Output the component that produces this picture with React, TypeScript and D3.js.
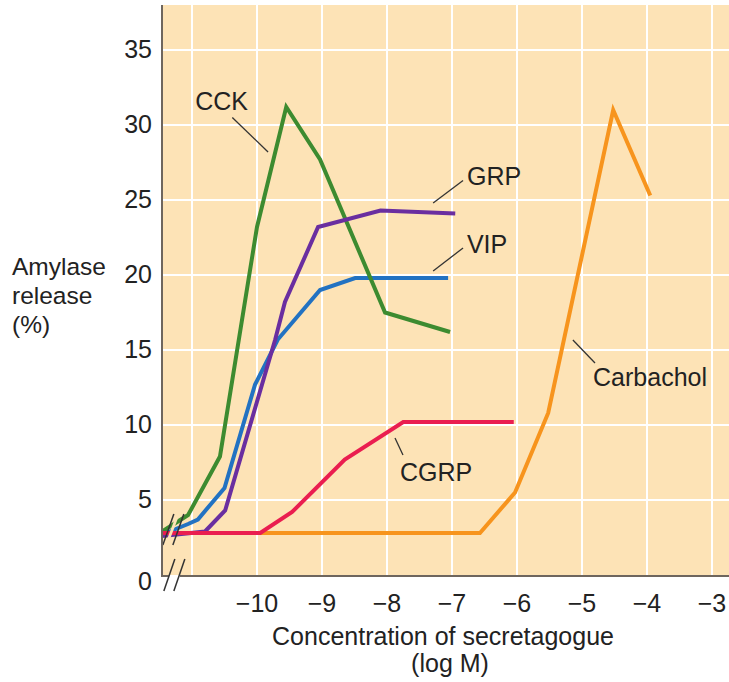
import React from "react";
import * as d3 from "d3";

// ---- data (log M concentration, % amylase release) ----
const cckX = [-11.46, -11.06, -10.57, -10.0, -9.55, -9.03, -8.03, -7.03];
const cckY = [2.9, 4.0, 7.9, 23.2, 31.2, 27.7, 17.5, 16.2];

const vipX = [-11.46, -11.06, -10.91, -10.5, -10.03, -9.68, -9.03, -8.49, -7.06];
const vipY = [2.7, 3.4, 3.7, 5.8, 12.7, 15.7, 19.0, 19.8, 19.8];

const grpX = [-11.46, -10.8, -10.49, -9.72, -9.57, -9.06, -8.1, -6.95];
const grpY = [2.6, 2.9, 4.3, 15.7, 18.2, 23.2, 24.3, 24.1];

const cgrpX = [-11.46, -9.95, -9.46, -8.65, -7.75, -6.05];
const cgrpY = [2.8, 2.8, 4.2, 7.7, 10.2, 10.2];

const carbX = [-11.46, -6.57, -6.03, -5.52, -4.52, -3.95];
const carbY = [2.8, 2.8, 5.5, 10.8, 31.0, 25.3];

const xTicks = [-10, -9, -8, -7, -6, -5, -4, -3];
const xGrid = [-11, -10, -9, -8, -7, -6, -5, -4, -3];
const yTicks = [0, 5, 10, 15, 20, 25, 30, 35];

const seriesNames = ["Carbachol", "VIP", "CCK", "GRP", "CGRP"];
const seriesColors = ["#f7941d", "#2272c2", "#3d8b30", "#6a2ea0", "#ea1e50"];

// ---- layout ----
const W = 729;
const H = 682;
const plotLeft = 162;
const plotTop = 5;
const FONT = "'Liberation Sans', Arial, Helvetica, sans-serif";
const BG = "#fde3b6";

const x = d3.scaleLinear().domain([-10, -3]).range([257, 712]);
const y = d3.scaleLinear().domain([0, 35]).range([575, 50]);

const zip = (xs: number[], ys: number[]) => xs.map((v, i) => [v, ys[i]] as [number, number]);
const seriesData = [
  zip(carbX, carbY),
  zip(vipX, vipY),
  zip(cckX, cckY),
  zip(grpX, grpY),
  zip(cgrpX, cgrpY),
];

const line = d3
  .line<[number, number]>()
  .x((d) => x(d[0]))
  .y((d) => y(d[1]));

// annotations: label anchor (data coords), leader line from/to (data coords)
const annotations = [
  { text: "CCK", tx: -10.95, ty: 31.0, l: [-10.38, 30.5, -9.83, 28.2] },
  { text: "GRP", tx: -6.77, ty: 26.0, l: [-7.29, 24.8, -6.83, 26.3] },
  { text: "VIP", tx: -6.77, ty: 21.5, l: [-7.29, 20.27, -6.83, 21.8] },
  { text: "CGRP", tx: -7.8, ty: 6.3, l: [-7.877, 9.13, -7.754, 8.0] },
  { text: "Carbachol", tx: -4.83, ty: 12.6, l: [-5.14, 15.67, -4.8, 14.13] },
];

export default function App() {
  const bx = x(-11.31); // break center on data lines
  const by = y(2.8);
  const ax0 = y(0) + 1;
  return (
    <svg
      width={W}
      height={H}
      style={{ position: "absolute", left: 0, top: 0, background: "#fff" }}
      fontFamily={FONT}
    >
      {/* plot background */}
      <rect x={plotLeft} y={plotTop} width={W - plotLeft} height={y(0) - plotTop} fill={BG} />
      {/* grid */}
      {xGrid.map((v) => (
        <line key={"gx" + v} x1={x(v)} x2={x(v)} y1={plotTop} y2={y(0)} stroke="#fff" strokeWidth={2} />
      ))}
      {yTicks.filter((v) => v > 0).map((v) => (
        <line key={"gy" + v} x1={plotLeft} x2={W} y1={y(v)} y2={y(v)} stroke="#fff" strokeWidth={2} />
      ))}

      {/* series */}
      {seriesData.map((d, i) => (
        <path
          key={seriesNames[i]}
          d={line(d) || ""}
          fill="none"
          stroke={seriesColors[i]}
          strokeWidth={4}
          strokeLinejoin="miter"
          strokeLinecap="butt"
        />
      ))}

      {/* break on data lines */}
      <polygon
        points={`${bx - 7},${by + 12} ${bx + 4},${by - 17} ${bx + 7},${by - 17} ${bx - 4},${by + 12}`}
        fill={BG}
      />
      <line x1={bx - 9} y1={by + 12} x2={bx + 2} y2={by - 19} stroke="#333" strokeWidth={1.5} />
      <line x1={bx + 1} y1={by + 12} x2={bx + 12} y2={by - 19} stroke="#333" strokeWidth={1.5} />

      {/* axes */}
      <line x1={plotLeft} x2={plotLeft} y1={plotTop} y2={ax0 + 1} stroke="#6e665e" strokeWidth={2} />
      <line x1={plotLeft} x2={bx - 3} y1={ax0} y2={ax0} stroke="#6e665e" strokeWidth={2} />
      <line x1={bx + 8} x2={W} y1={ax0} y2={ax0} stroke="#6e665e" strokeWidth={2} />
      <line x1={bx - 8} y1={ax0 + 15} x2={bx + 3} y2={ax0 - 17} stroke="#333" strokeWidth={1.5} />
      <line x1={bx + 2} y1={ax0 + 15} x2={bx + 13} y2={ax0 - 17} stroke="#333" strokeWidth={1.5} />

      {/* y tick labels */}
      {yTicks.map((v) => (
        <text
          key={"yt" + v}
          x={152}
          y={y(v) + (v === 0 ? 15 : 8)}
          textAnchor="end"
          fontSize={25}
          fill="#222"
        >
          {v}
        </text>
      ))}
      {/* x tick labels */}
      {xTicks.map((v) => (
        <text key={"xt" + v} x={x(v)} y={612} textAnchor="middle" fontSize={25} fill="#222">
          {"\u2212" + Math.abs(v)}
        </text>
      ))}

      {/* axis titles */}
      <text x={443} y={645} textAnchor="middle" fontSize={25} fill="#222">
        Concentration of secretagogue
      </text>
      <text x={450} y={672} textAnchor="middle" fontSize={25} fill="#222">
        (log M)
      </text>
      <text x={12} fontSize={24.5} fill="#222">
        <tspan x={12} y={275}>Amylase</tspan>
        <tspan x={12} y={304}>release</tspan>
        <tspan x={12} y={333}>(%)</tspan>
      </text>

      {/* annotations */}
      {annotations.map((a) => (
        <g key={a.text}>
          <line
            x1={x(a.l[0])}
            y1={y(a.l[1])}
            x2={x(a.l[2])}
            y2={y(a.l[3])}
            stroke="#333"
            strokeWidth={1.3}
          />
          <text x={x(a.tx)} y={y(a.ty)} fontSize={25} fill="#222">
            {a.text}
          </text>
        </g>
      ))}
    </svg>
  );
}
